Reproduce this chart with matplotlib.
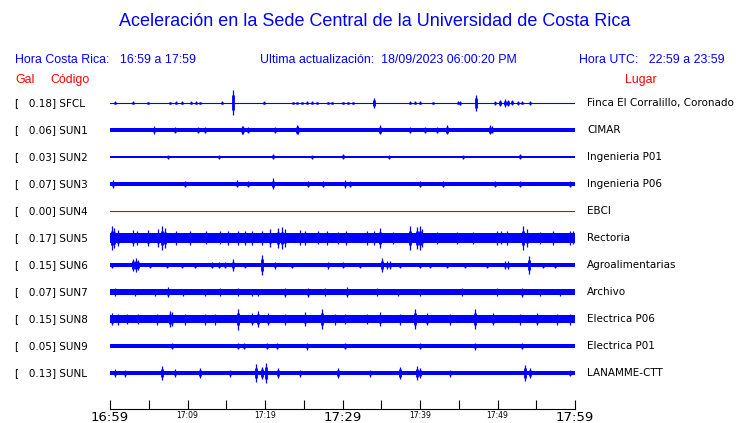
import numpy as np
import matplotlib
matplotlib.use("Agg")
import matplotlib.pyplot as plt
from matplotlib.transforms import blended_transform_factory

# Stations, top to bottom
codes = ["SFCL", "SUN1", "SUN2", "SUN3", "SUN4", "SUN5",
         "SUN6", "SUN7", "SUN8", "SUN9", "SUNL"]
gal = [0.18, 0.06, 0.03, 0.07, 0.00, 0.17, 0.15, 0.07, 0.15, 0.05, 0.13]
places = ["Finca El Corralillo, Coronado", "CIMAR", "Ingenieria P01",
          "Ingenieria P06", "EBCI", "Rectoria", "Agroalimentarias",
          "Archivo", "Electrica P06", "Electrica P01", "LANAMME-CTT"]

# background noise half-amplitude of each trace (display units)
noise = [0.5, 2.1, 1.3, 2.3, 0.0, 4.8, 1.8, 2.6, 4.2, 1.7, 2.3]

# bursts: minutes after 16:59 and half-amplitude (display units)
ev_min = {
    "SFCL": [0.7, 3.0, 4.9, 7.7, 8.5, 9.3, 10.5, 11.1, 11.6, 14.4, 15.9, 19.9,
             23.6, 24.1, 24.8, 25.4, 26.1, 26.7, 28.1, 28.6, 30.1, 30.7, 31.4,
             34.0, 38.7, 39.4, 40.0, 41.7, 44.9, 45.2, 47.2, 49.7, 50.3, 51.0,
             51.4, 51.9, 52.6, 53.2, 54.2],
    "SUN1": [5.7, 8.4, 11.4, 12.3, 17.0, 17.2, 17.8, 21.3, 24.1, 24.3, 34.8,
             38.7, 40.6, 42.2, 43.5, 49.0, 49.3],
    "SUN2": [7.5, 14.0, 21.0, 26.0, 30.1, 36.0, 45.5, 52.9],
    "SUN3": [0.4, 9.7, 16.4, 17.8, 21.0, 25.5, 27.5, 30.3, 31.0, 40.0, 43.0,
             49.7, 52.9, 59.4],
    "SUN4": [],
    "SUN5": [0.2, 0.5, 1.0, 3.0, 3.5, 4.9, 6.2, 6.7, 7.1, 8.5, 10.3, 12.4,
             14.2, 15.2, 16.5, 17.4, 18.3, 19.6, 20.6, 21.7, 22.2, 22.6, 24.5,
             25.2, 26.8, 28.0, 29.4, 30.5, 33.2, 34.0, 34.8, 36.5, 38.7, 39.6,
             40.0, 40.3, 42.2, 44.8, 46.9, 49.9, 50.5, 51.2, 53.3, 53.8, 55.5,
             57.2, 59.4, 59.7],
    "SUN6": [0.2, 3.0, 3.3, 3.6, 5.2, 7.4, 9.3, 11.0, 13.2, 14.0, 14.8, 15.9,
             17.4, 19.6, 21.3, 23.5, 28.1, 30.1, 32.3, 35.1, 35.7, 36.1, 37.4,
             40.0, 41.3, 43.5, 45.8, 48.6, 51.0, 51.4, 54.1, 55.9, 57.4],
    "SUN7": [0.6, 3.2, 5.8, 7.5, 9.4, 12.3, 14.2, 16.5, 18.3, 19.1, 22.6,
             25.5, 27.7, 30.6, 34.5, 37.2, 40.0, 45.4, 49.9, 53.2, 55.5, 58.1],
    "SUN8": [0.3, 1.0, 2.2, 3.6, 6.1, 7.7, 8.0, 9.7, 12.3, 13.5, 16.5, 18.3,
             19.1, 20.4, 22.6, 25.2, 27.4, 29.0, 30.3, 33.2, 34.8, 37.4, 39.4,
             40.9, 43.9, 47.1, 49.4, 52.9, 55.1, 57.7, 59.4],
    "SUN9": [8.0, 16.5, 17.3, 20.3, 21.5, 25.4, 30.3, 40.0, 47.1, 53.1],
    "SUNL": [0.6, 1.9, 6.7, 8.4, 11.6, 15.5, 18.9, 19.6, 20.1, 21.7, 24.5,
             29.4, 33.5, 37.4, 39.6, 40.0, 43.9, 53.5, 54.2, 59.4],
}
ev_amp = {
    "SFCL": [1.5, 1.5, 1.2, 1.2, 1.5, 1.5, 1.5, 1.5, 1.2, 1.5, 12.5, 1.5,
             1.2, 1.2, 1.2, 1.5, 1.5, 1.2, 1.2, 1.2, 1.2, 1.2, 1.2,
             5.0, 1.5, 1.5, 1.5, 1.2, 1.5, 2.0, 8.0, 2.0, 3.0, 4.0,
             3.0, 2.5, 2.0, 1.5, 2.0],
    "SUN1": [3.7, 2.8, 2.8, 3.0, 4.0, 4.0, 3.0, 2.8, 4.5, 4.0, 4.5,
             2.8, 2.8, 2.8, 4.5, 4.5, 3.5],
    "SUN2": [1.9, 1.9, 2.5, 1.9, 2.5, 1.9, 1.9, 2.5],
    "SUN3": [4.0, 3.0, 3.5, 3.0, 5.5, 3.0, 3.0, 4.0, 3.0, 3.0, 3.0,
             3.0, 3.0, 3.0],
    "SUN4": [],
    "SUN5": [11.7, 10.0, 8.0, 8.0, 7.0, 7.7, 9.0, 11.7, 10.0, 7.0, 7.0, 6.5,
             6.5, 7.0, 7.0, 7.0, 7.0, 7.0, 9.0, 10.0, 10.7, 9.0, 7.5,
             7.0, 6.5, 7.0, 6.0, 7.0, 7.0, 7.0, 10.0, 6.0, 12.0, 11.0,
             12.0, 9.0, 6.0, 6.0, 6.0, 7.0, 6.5, 7.0, 12.0, 9.0, 6.0,
             7.0, 7.0, 6.5],
    "SUN6": [2.5, 6.0, 7.3, 5.0, 2.5, 2.5, 2.5, 2.5, 3.0, 3.0, 3.0, 5.7,
             2.5, 10.0, 3.5, 2.5, 3.5, 3.0, 2.5, 7.0, 4.0, 4.0, 2.5,
             2.5, 2.5, 2.5, 2.5, 2.5, 4.0, 4.0, 8.7, 2.5, 2.5],
    "SUN7": [4.0, 3.5, 3.5, 5.0, 3.5, 3.5, 4.0, 4.0, 3.5, 3.5, 4.5,
             4.5, 4.0, 5.0, 4.0, 3.5, 3.5, 4.0, 4.0, 4.5, 3.5, 3.5],
    "SUN8": [6.0, 5.5, 5.0, 5.0, 5.5, 8.0, 7.0, 5.5, 5.5, 5.5, 10.5, 6.0,
             8.0, 6.0, 5.5, 7.0, 9.7, 5.5, 5.0, 5.0, 7.0, 5.5, 10.0,
             6.0, 5.5, 10.0, 6.0, 5.5, 6.0, 5.5, 5.5],
    "SUN9": [3.0, 3.0, 2.5, 2.5, 2.5, 3.5, 2.5, 2.5, 3.5, 2.5],
    "SUNL": [4.0, 3.5, 7.0, 4.0, 5.0, 3.5, 9.0, 6.0, 10.0, 5.0, 3.5,
             5.0, 3.5, 6.0, 7.0, 5.0, 3.5, 8.0, 5.0, 3.0],
}

tick_min = np.arange(0, 61, 5)
tick_lbl = ["16:59", "", "17:09", "", "17:19", "", "17:29", "",
            "17:39", "", "17:49", "", "17:59"]

BLUE = "#0000ff"
RED = "#ff0000"
GAIN = 1 / 27.0   # display units -> row spacing

W, H = 740, 423
fig = plt.figure(figsize=(W / 100, H / 100), dpi=100)
fig.patch.set_facecolor("white")

# trace area: x 110..575 px, bottom axis line at 409 px
ax = fig.add_axes([110 / W, (H - 409) / H, 465 / W, 321 / H])
ax.set_xlim(0, 60)
ax.set_ylim(-(409 - 103) / 27, 15 / 27)
for s in ["top", "left", "right"]:
    ax.spines[s].set_visible(False)
ax.spines["bottom"].set_linewidth(0.8)
ax.set_yticks([])
ax.set_xticks(tick_min)
ax.set_xticklabels(tick_lbl)
ax.tick_params(axis="x", direction="in", length=6.5, width=0.8, pad=1.5)
for i, t in enumerate(ax.get_xticklabels()):
    t.set_fontsize(9.5 if i % 6 == 0 else 5.5)

for i, code in enumerate(codes):
    y0 = -i
    if gal[i] == 0:
        ax.plot([0, 60], [y0, y0], color="#dd0000", lw=0.8)
        continue
    b = noise[i] * GAIN
    if noise[i] < 1:
        ax.plot([0, 60], [y0, y0], color=BLUE, lw=0.8)
    else:
        ax.fill_between([0, 60], y0 - b, y0 + b, color=BLUE, lw=0)
    m = np.array(ev_min[code])
    a = np.array(ev_amp[code]) * GAIN
    ax.vlines(m, y0 - a, y0 + a, color=BLUE, lw=0.9)
    # slightly thicker core so bursts read as wavelets
    ax.vlines(m, y0 - 0.6 * a, y0 + 0.6 * a, color=BLUE, lw=2.0)

tr = blended_transform_factory(fig.transFigure, ax.transData)
for i, code in enumerate(codes):
    ax.text(15 / W, -i, f"[   {gal[i]:.2f}] {code}", transform=tr,
            ha="left", va="center", fontsize=7.5, family="DejaVu Sans")
    ax.text(587 / W, -i, places[i], transform=tr,
            ha="left", va="center", fontsize=7.5, family="DejaVu Sans")

hf = "Liberation Sans"
fig.text(375 / W, 1 - 22 / H,
         "Aceleración en la Sede Central de la Universidad de Costa Rica",
         ha="center", va="center", fontsize=13, color=BLUE, family=hf)
fig.text(15 / W, 1 - 60 / H, "Hora Costa Rica:   16:59 a 17:59",
         ha="left", va="center", fontsize=8.9, color=BLUE, family=hf)
fig.text(388 / W, 1 - 60 / H,
         "Ultima actualización:  18/09/2023 06:00:20 PM",
         ha="center", va="center", fontsize=8.9, color=BLUE, family=hf)
fig.text(725 / W, 1 - 60 / H, "Hora UTC:   22:59 a 23:59",
         ha="right", va="center", fontsize=8.9, color=BLUE, family=hf)
fig.text(15 / W, 1 - 80 / H, "Gal", ha="left", va="center",
         fontsize=8.9, color=RED, family=hf)
fig.text(50 / W, 1 - 80 / H, "Código", ha="left", va="center",
         fontsize=8.9, color=RED, family=hf)
fig.text(657 / W, 1 - 80 / H, "Lugar", ha="right", va="center",
         fontsize=8.9, color=RED, family=hf)

fig.savefig("out.png", dpi=100, facecolor="white")
